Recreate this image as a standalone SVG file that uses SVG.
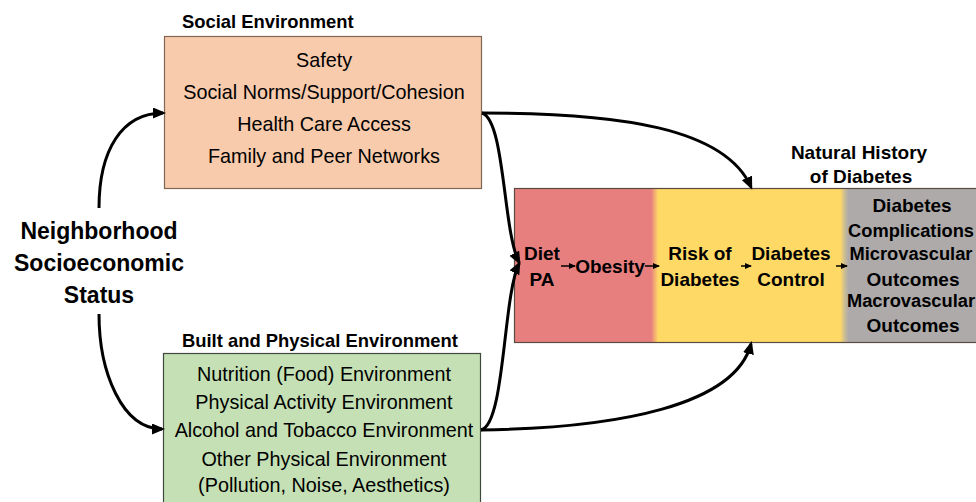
<svg xmlns="http://www.w3.org/2000/svg" width="976" height="502" viewBox="0 0 976 502">
  <style>
    .title { font-family: "Liberation Sans", Arial, sans-serif; font-weight: bold; font-size: 18.4px; fill: #000; }
    .item { font-family: "Liberation Sans", Arial, sans-serif; font-size: 19.8px; fill: #000; text-anchor: middle; }
    .stage { font-family: "Liberation Sans", Arial, sans-serif; font-weight: bold; font-size: 19px; fill: #000; text-anchor: middle; }
    .narrow { font-size: 18.3px; }
    .big { font-family: "Liberation Sans", Arial, sans-serif; font-weight: bold; font-size: 23px; fill: #000; text-anchor: middle; }
    .link { fill: none; stroke: #000; stroke-width: 3; marker-end: url(#head); }
    .step { fill: none; stroke: #000; stroke-width: 1.5; marker-end: url(#tick); }
  </style>
  <defs>
    <marker id="head" markerUnits="userSpaceOnUse" markerWidth="13" markerHeight="11" viewBox="0 0 13 11" refX="10" refY="5.5" orient="auto">
      <path d="M0,0 L13,5.5 L0,11 z" fill="#000"/>
    </marker>
    <marker id="tick" markerUnits="userSpaceOnUse" markerWidth="7" markerHeight="6" viewBox="0 0 7 6" refX="6" refY="3" orient="auto">
      <path d="M0,0 L7,3 L0,6 z" fill="#000"/>
    </marker>
    <linearGradient id="history" gradientUnits="userSpaceOnUse" x1="514" y1="0" x2="976" y2="0">
      <stop offset="0" stop-color="#E77F7F"/>
      <stop offset="0.297" stop-color="#E77F7F"/>
      <stop offset="0.305" stop-color="#F4B070"/>
      <stop offset="0.312" stop-color="#FFD965"/>
      <stop offset="0.706" stop-color="#FFD965"/>
      <stop offset="0.716" stop-color="#C9BC95"/>
      <stop offset="0.724" stop-color="#AEAAAA"/>
      <stop offset="1" stop-color="#AEAAAA"/>
    </linearGradient>
  </defs>

  <!-- Neighborhood socioeconomic status -->
  <g id="neighborhood">
    <text class="big" x="99" y="239">Neighborhood</text>
    <text class="big" x="99" y="271">Socioeconomic</text>
    <text class="big" x="99" y="303">Status</text>
  </g>

  <!-- Social environment -->
  <g id="social">
    <text class="title" x="182" y="28">Social Environment</text>
    <rect x="164.5" y="36.5" width="317" height="152" fill="#F8CBAD" stroke="#7F6655" stroke-width="1.2"/>
    <text class="item" x="324" y="67">Safety</text>
    <text class="item" x="324" y="99">Social Norms/Support/Cohesion</text>
    <text class="item" x="324" y="131">Health Care Access</text>
    <text class="item" x="324" y="163">Family and Peer Networks</text>
  </g>

  <!-- Built and physical environment -->
  <g id="built">
    <text class="title" x="182" y="347">Built and Physical Environment</text>
    <rect x="163.5" y="353.5" width="317" height="160" fill="#C5E0B4" stroke="#404A3C" stroke-width="1.2"/>
    <text class="item" x="324" y="381">Nutrition (Food) Environment</text>
    <text class="item" x="324" y="409">Physical Activity Environment</text>
    <text class="item" x="324" y="437">Alcohol and Tobacco Environment</text>
    <text class="item" x="324" y="466">Other Physical Environment</text>
    <text class="item" x="324" y="492">(Pollution, Noise, Aesthetics)</text>
  </g>

  <!-- Natural history of diabetes -->
  <g id="history-box">
    <text class="stage" x="859" y="159">Natural History</text>
    <text class="stage" x="861" y="183">of Diabetes</text>
    <rect x="514.5" y="188.5" width="470" height="154" fill="url(#history)" stroke="#5A4A42" stroke-width="1.2"/>
    <text class="stage" x="542" y="260">Diet</text>
    <text class="stage" x="542" y="286">PA</text>
    <text class="stage" x="610" y="273">Obesity</text>
    <text class="stage" x="700" y="260">Risk of</text>
    <text class="stage" x="700" y="286">Diabetes</text>
    <text class="stage" x="791" y="260">Diabetes</text>
    <text class="stage" x="791" y="286">Control</text>
    <text class="stage" x="912" y="212">Diabetes</text>
    <text class="stage narrow" x="911" y="237">Complications</text>
    <text class="stage narrow" x="911" y="260">Microvascular</text>
    <text class="stage" x="913" y="286">Outcomes</text>
    <text class="stage narrow" x="911" y="307">Macrovascular</text>
    <text class="stage" x="913" y="332">Outcomes</text>
  </g>

  <!-- Connectors -->
  <g id="connectors">
    <path class="link" d="M99,208 C99,150 122,113 163,113"/>
    <path class="link" d="M99,314 C99,372 122,429 162,429"/>
    <path class="link" d="M482,113 C620,113 725,128 751,187"/>
    <path class="link" d="M482,113 C505,120 503,232 519,262"/>
    <path class="link" d="M481,430 C505,425 503,295 519,264"/>
    <path class="link" d="M481,430 C620,428 735,405 751,344"/>
    <path class="step" d="M561,266 L575,266"/>
    <path class="step" d="M645,266 L659,266"/>
    <path class="step" d="M741,266 L751,266"/>
    <path class="step" d="M836,266 L847,266"/>
  </g>
</svg>
